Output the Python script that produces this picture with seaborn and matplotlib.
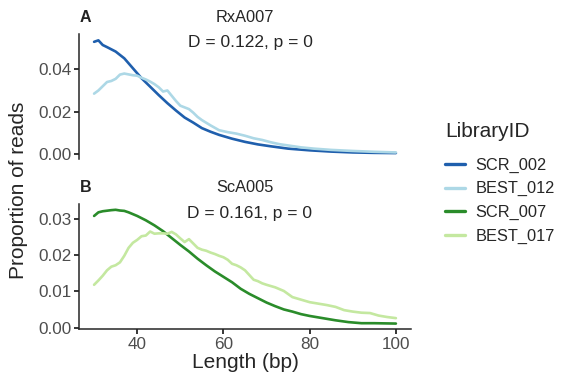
import seaborn as sns
import matplotlib.pyplot as plt
import pandas as pd

# panel A: RxA007
len_scr002 = [30, 31, 32, 33, 35, 37, 39, 41, 43, 45, 47, 49, 51, 53, 55, 57, 59,
              62, 65, 68, 71, 75, 80, 85, 90, 95, 100]
prop_scr002 = [0.0530, 0.0537, 0.0515, 0.0505, 0.0484, 0.0452, 0.0405, 0.0358, 0.0318,
               0.0278, 0.0240, 0.0205, 0.0172, 0.0148, 0.0122, 0.0105, 0.0090, 0.0072,
               0.0057, 0.0045, 0.0036, 0.0025, 0.0017, 0.0011, 0.0007, 0.0005, 0.0004]

len_best012 = [30, 31, 32, 33, 34, 35, 36, 37, 38, 39, 40, 41, 42, 43, 44, 45, 46, 47,
               48, 49, 50, 51, 52, 53, 54, 55, 57, 59, 61, 63, 65, 67, 69, 71, 73, 75,
               78, 81, 85, 90, 95, 100]
prop_best012 = [0.0285, 0.0300, 0.0320, 0.0340, 0.0345, 0.0355, 0.0375, 0.0380, 0.0376,
                0.0372, 0.0370, 0.0360, 0.0352, 0.0342, 0.0330, 0.0315, 0.0295, 0.0300,
                0.0275, 0.0250, 0.0228, 0.0220, 0.0212, 0.0195, 0.0175, 0.0160, 0.0135,
                0.0112, 0.0103, 0.0096, 0.0086, 0.0074, 0.0066, 0.0055, 0.0046, 0.0040,
                0.0031, 0.0025, 0.0019, 0.0014, 0.0010, 0.0007]

# panel B: ScA005
len_scr007 = [30, 31, 32, 34, 35, 36, 37, 38, 40, 42, 44, 46, 48, 50, 52, 54, 56, 58,
              60, 62, 64, 66, 68, 70, 72, 74, 76, 78, 80, 83, 86, 89, 92, 95, 100]
prop_scr007 = [0.0308, 0.0318, 0.0321, 0.0324, 0.0325, 0.0323, 0.0322, 0.0318, 0.0308,
               0.0296, 0.0282, 0.0266, 0.0247, 0.0228, 0.0210, 0.0190, 0.0172, 0.0155,
               0.0140, 0.0125, 0.0107, 0.0093, 0.0081, 0.0069, 0.0059, 0.0050, 0.0044,
               0.0037, 0.0032, 0.0026, 0.0020, 0.0015, 0.0012, 0.0012, 0.0011]

len_best017 = [30, 31, 32, 33, 34, 35, 36, 37, 38, 39, 40, 41, 42, 43, 44, 45, 46, 47,
               48, 49, 50, 51, 52, 53, 54, 55, 56, 57, 58, 59, 60, 61, 62, 63, 64, 65,
               66, 67, 68, 69, 70, 72, 74, 76, 78, 80, 82, 84, 86, 88, 90, 92, 94, 96,
               98, 100]
prop_best017 = [0.0118, 0.0130, 0.0143, 0.0158, 0.0168, 0.0172, 0.0180, 0.0198, 0.0220,
                0.0234, 0.0242, 0.0252, 0.0254, 0.0265, 0.0259, 0.0260, 0.0260, 0.0259,
                0.0264, 0.0257, 0.0246, 0.0236, 0.0244, 0.0232, 0.0220, 0.0215, 0.0212,
                0.0207, 0.0203, 0.0198, 0.0194, 0.0187, 0.0176, 0.0172, 0.0166, 0.0158,
                0.0145, 0.0132, 0.0128, 0.0122, 0.0118, 0.0111, 0.0101, 0.0084, 0.0077,
                0.0070, 0.0066, 0.0062, 0.0057, 0.0048, 0.0044, 0.0041, 0.0040, 0.0033,
                0.0029, 0.0026]

libraries = ['SCR_002', 'BEST_012', 'SCR_007', 'BEST_017']
colors = ['#1f5fad', '#add8e6', '#2a8c2a', '#c4e8a0']
panel_titles = ['RxA007', 'ScA005']
panel_stats = ['D = 0.122, p = 0', 'D = 0.161, p = 0']
panel_tags = ['A', 'B']


def make_df(lib, lengths, props):
    return pd.DataFrame({'Length': lengths, 'Proportion': props, 'LibraryID': lib})


df_a = pd.concat([make_df('SCR_002', len_scr002, prop_scr002),
                  make_df('BEST_012', len_best012, prop_best012)])
df_b = pd.concat([make_df('SCR_007', len_scr007, prop_scr007),
                  make_df('BEST_017', len_best017, prop_best017)])

sns.set_theme(style="ticks")
plt.rcParams['font.family'] = ['Liberation Sans', 'DejaVu Sans']

fig = plt.figure(figsize=(5.61, 3.84), dpi=100)
ax_a = fig.add_axes([79 / 561, 1 - 159 / 384, 332 / 561, 125 / 384])
ax_b = fig.add_axes([79 / 561, 1 - 329 / 384, 332 / 561, 125 / 384])

pal = dict(zip(libraries, colors))
sns.lineplot(data=df_a, x='Length', y='Proportion', hue='LibraryID', palette=pal,
             hue_order=['SCR_002', 'BEST_012'], linewidth=1.9, ax=ax_a, legend=False)
sns.lineplot(data=df_b, x='Length', y='Proportion', hue='LibraryID', palette=pal,
             hue_order=['SCR_007', 'BEST_017'], linewidth=1.9, ax=ax_b, legend=False)

tick_color = '#4d4d4d'
for i, ax in enumerate([ax_a, ax_b]):
    ax.set_xlim(26.5, 103.5)
    ax.set_xticks([40, 60, 80, 100])
    ax.spines['top'].set_visible(False)
    ax.spines['right'].set_visible(False)
    ax.spines['left'].set_linewidth(1.1)
    ax.spines['bottom'].set_linewidth(1.1)
    ax.tick_params(axis='both', labelsize=12.3, labelcolor=tick_color, color='black',
                   length=3.5, width=1.1, pad=2)
    ax.set_xlabel('')
    ax.set_ylabel('')
    ax.set_title(panel_titles[i], fontsize=11.8, pad=8.5)
    ax.text(0.515, 1 - 9 / 125, panel_stats[i], transform=ax.transAxes,
            ha='center', va='center', fontsize=12.5)
    ax.annotate(panel_tags[i], xy=(0.0, 1.0), xycoords='axes fraction',
                xytext=(0.5, 8.5), textcoords='offset points', ha='left',
                va='baseline', fontsize=11.5, fontweight='bold', color='#222222')

ax_a.set_ylim(-0.0024, 0.0567)
ax_a.set_yticks([0.00, 0.02, 0.04])
ax_a.set_yticklabels(['0.00', '0.02', '0.04'])
ax_a.spines['bottom'].set_visible(False)
ax_a.tick_params(axis='x', bottom=False, labelbottom=False)

ax_b.set_ylim(-0.0004, 0.0341)
ax_b.set_yticks([0.00, 0.01, 0.02, 0.03])
ax_b.set_yticklabels(['0.00', '0.01', '0.02', '0.03'])

fig.text(18 / 561, 1 - 190 / 384, 'Proportion of reads', rotation=90, ha='center',
         va='center', fontsize=15)
fig.text(245 / 561, 1 - 363 / 384, 'Length (bp)', ha='center', va='center', fontsize=15)

handles = [plt.Line2D([], [], color=c, linewidth=2.4) for c in colors]
leg = fig.legend(handles, libraries, title='LibraryID', loc='upper left',
                 bbox_to_anchor=(445 / 561, 1 - 122 / 384), frameon=False,
                 fontsize=11.8, title_fontsize=15, handlelength=1.22,
                 handletextpad=0.65, labelspacing=0.52, borderpad=0,
                 borderaxespad=0)
leg._legend_box.align = 'left'
leg._legend_box.sep = 12

fig.savefig('out.png', dpi=100)
